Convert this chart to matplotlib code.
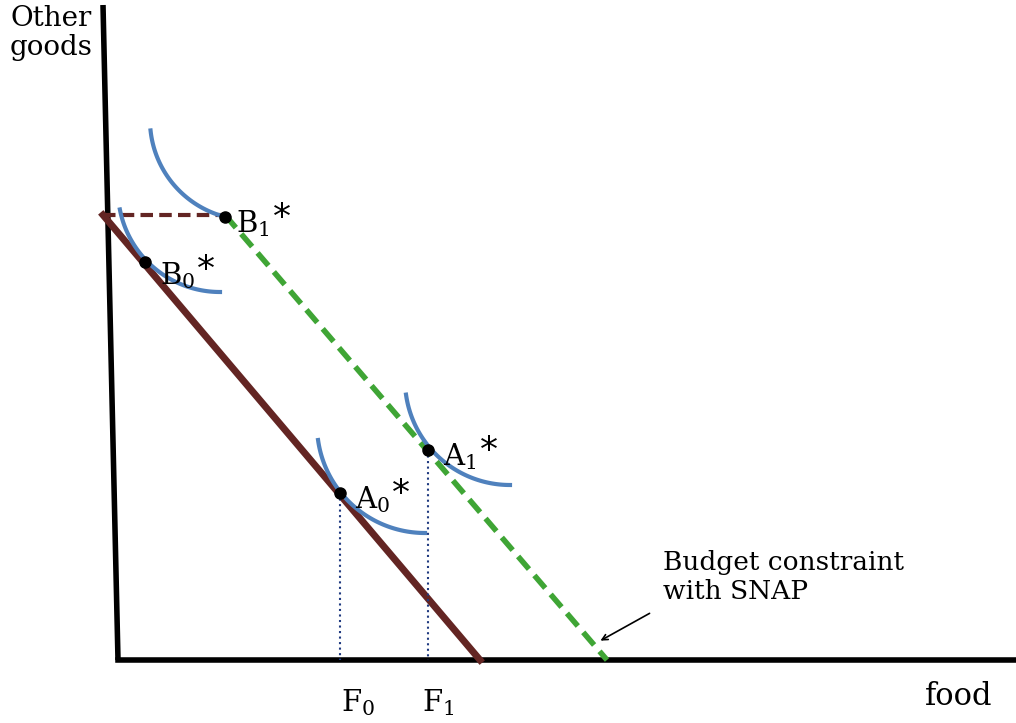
import numpy as np
import matplotlib
matplotlib.use("Agg")
import matplotlib.pyplot as plt
plt.rcParams["mathtext.fontset"] = "dejavuserif"

# Diagram geometry (in image pixel space)
budget0 = [(103, 215), (480, 660)]
budget_snap = [(225, 215), (607, 660)]
cap = [(103, 215), (225, 215)]
points = {"B_1": (225, 217), "B_0": (145, 262), "A_0": (340, 493), "A_1": (428, 450)}
label_pos = {"B_1": (236, 232), "B_0": (160, 284), "A_0": (355, 508), "A_1": (443, 465)}
# indifference arcs: center, radius, start angle, end angle (deg, y-down)
arcs = [((250, 120), 100, 104, 174), ((220, 190), 102, 90, 169),
        ((425, 425), 108, 90, 172), ((510, 380), 105, 90, 172)]

fig = plt.figure(figsize=(10.16, 7.23), dpi=100)
ax = fig.add_axes([0, 0, 1, 1])
ax.set_xlim(0, 1016); ax.set_ylim(723, 0); ax.axis("off")
font = dict(family="DejaVu Serif")

ax.plot([103, 118], [5, 660], color="black", lw=4, solid_capstyle="butt")
ax.plot([118, 1016], [660, 660], color="black", lw=4)
ax.plot(*zip(*budget0), color="#632523", lw=5)
ax.plot(*zip(*cap), color="#632523", lw=3, ls=(0, (3, 1.5)))
ax.plot(*zip(*budget_snap), color="#3fa535", lw=4, ls=(0, (3, 1.5)))
for (cx, cy), r, a0, a1 in arcs:
    t = np.radians(np.linspace(a0, a1, 80))
    ax.plot(cx + r*np.cos(t), cy + r*np.sin(t), color="#4f81bd", lw=3)
for k in ("A_0", "A_1"):
    x, y = points[k]
    ax.plot([x, x], [y, 660], color="#1f3a80", lw=1.5, ls=":")
for k, (x, y) in points.items():
    ax.plot(x, y, "o", color="black", ms=8)
    lx, ly = label_pos[k]
    ax.text(lx, ly, rf"$\mathrm{{{k[0]}}}_{{\mathrm{{{k[2]}}}}}$", fontsize=21, va="baseline", ha="left")
    ax.text(lx + 37, ly - 4, "*", fontsize=26, va="baseline", ha="left", family="DejaVu Sans")

ax.text(10, 5, "Other\ngoods", fontsize=20, va="top", ha="left", linespacing=1.1, **font)
ax.text(925, 712, "food", fontsize=22, va="bottom", **font)
ax.text(341, 718, r"$\mathrm{F}_{\mathrm{0}}$", fontsize=21, va="bottom", ha="left")
ax.text(422, 718, r"$\mathrm{F}_{\mathrm{1}}$", fontsize=21, va="bottom", ha="left")
ax.text(663, 577, "Budget constraint\nwith SNAP", fontsize=19, va="center", ha="left", linespacing=1.2, **font)
ax.annotate("", xy=(598, 642), xytext=(652, 612),
            arrowprops=dict(arrowstyle="->", lw=1.2, color="black"))
fig.savefig("out.png", dpi=100)
